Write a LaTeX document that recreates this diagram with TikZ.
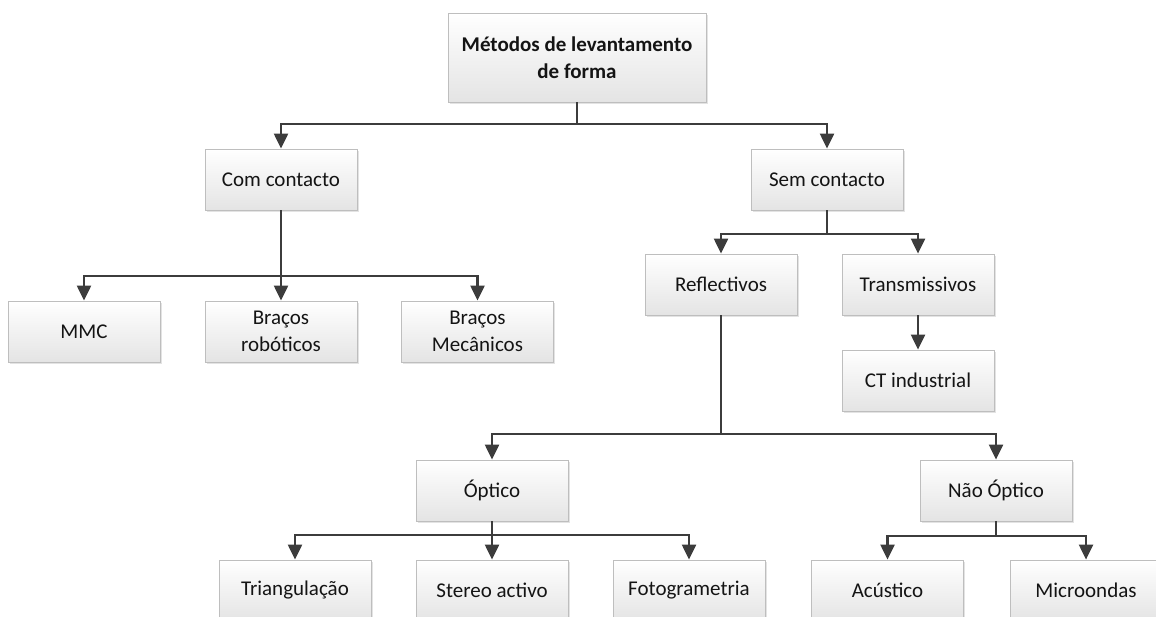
\documentclass[tikz,border=0pt]{standalone}
\usepackage{fontspec}
\setmainfont{Carlito}
\usetikzlibrary{arrows.meta,shadows}
\definecolor{linegray}{HTML}{3C3C3C}
\definecolor{boxedge}{HTML}{BEBEBE}
\definecolor{boxbottom}{HTML}{E4E4E4}
\definecolor{txt}{HTML}{141414}
\tikzset{
  box/.style={draw=boxedge, line width=0.8pt, top color=white, bottom color=boxbottom,
    minimum width=152pt, minimum height=61pt, inner sep=0pt, align=center,
    text=txt, font=\fontsize{21}{27}\selectfont,
    drop shadow={opacity=0.22, shadow xshift=1.6pt, shadow yshift=-1.8pt}},
  rootbox/.style={box, minimum width=258pt, minimum height=89pt,
    font=\fontsize{21}{27}\selectfont\bfseries},
  link/.style={draw=linegray, line width=2.2pt},
  arr/.style={link, -{Triangle[length=15pt, width=14pt]}},
}
\begin{document}
\begin{tikzpicture}[x=1pt, y=-1pt]
  \useasboundingbox (0,0) rectangle (1156,617);
  \clip (0,0) rectangle (1156,617);
  \fill[white] (0,0) rectangle (1156,617);

  % tree levels
  \node[rootbox] (root) at (577,57.5) {Métodos de levantamento\\de forma};
  \node[box] (com) at (281,179.5) {Com contacto};
  \node[box] (sem) at (827,179.5) {Sem contacto};

  \node[box] (mmc)  at (84,331.5)    {MMC};
  \node[box] (brob) at (281,331.5)   {Braços\\robóticos};
  \node[box] (bmec) at (477.5,331.5) {Braços\\Mecânicos};

  \node[box] (refl)  at (721,284.5) {Reflectivos};
  \node[box] (trans) at (918,284.5) {Transmissivos};
  \node[box] (ct)    at (918,380.5) {CT industrial};

  \node[box] (opt)  at (492,490.5) {Óptico};
  \node[box] (nopt) at (996,490.5) {Não Óptico};

  \node[box] (tri)   at (295,590.5)   {Triangulação};
  \node[box] (ster)  at (492,590.5)   {Stereo activo};
  \node[box] (foto)  at (689,590.5)   {Fotogrametria};
  \node[box] (acu)   at (887.5,590.5) {Acústico};
  \node[box] (micro) at (1086,590.5)  {Microondas};

  % branch points
  \coordinate (jroot) at (577,124);
  \coordinate (jcom)  at (281,276);
  \coordinate (jsem)  at (827,234);
  \coordinate (jrefl) at (721,434);
  \coordinate (jopt)  at (492,535);
  \coordinate (jnopt) at (996,536);

  % connectors
  \draw[link] (root.south) -- (jroot);
  \draw[arr] (jroot) -| (com.north);
  \draw[arr] (jroot) -| (sem.north);

  \draw[arr] (com.south) -- (brob.north);
  \draw[arr] (jcom) -| (mmc.north);
  \draw[arr] (jcom) -| (bmec.north);

  \draw[link] (sem.south) -- (jsem);
  \draw[arr] (jsem) -| (refl.north);
  \draw[arr] (jsem) -| (trans.north);
  \draw[arr] (trans.south) -- (ct.north);

  \draw[link] (refl.south) -- (jrefl);
  \draw[arr] (jrefl) -| (opt.north);
  \draw[arr] (jrefl) -| (nopt.north);

  \draw[arr] (opt.south) -- (ster.north);
  \draw[arr] (jopt) -| (tri.north);
  \draw[arr] (jopt) -| (foto.north);

  \draw[link] (nopt.south) -- (jnopt);
  \draw[arr] (jnopt) -| (acu.north);
  \draw[arr] (jnopt) -| (micro.north);
\end{tikzpicture}
\end{document}
